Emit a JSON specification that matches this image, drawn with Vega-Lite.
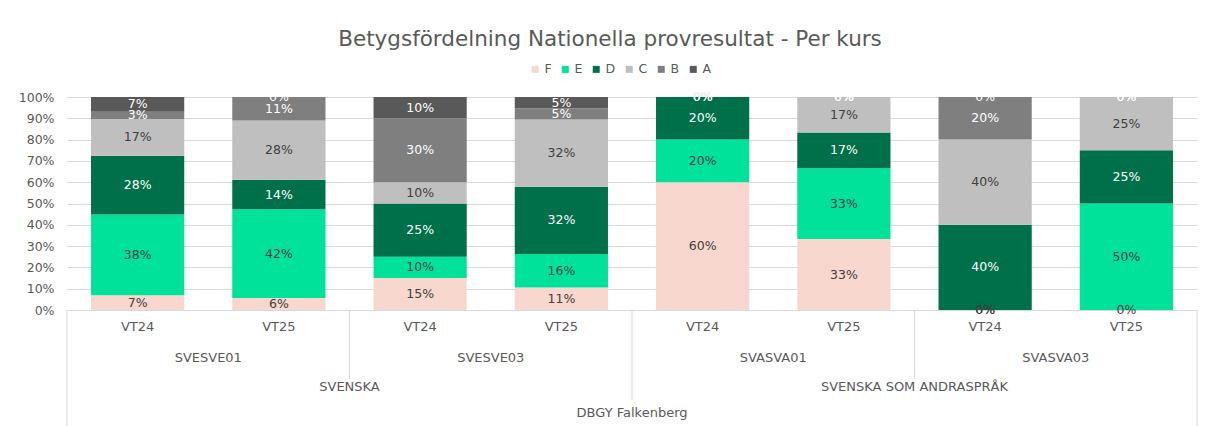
{
  "$schema": "https://vega.github.io/schema/vega-lite/v6.json",
  "width": 1130,
  "height": 213,
  "autosize": {"type": "none"},
  "padding": {"left": 67, "top": 97, "right": 8, "bottom": 116},
  "background": "white",
  "config": {
    "font": "DejaVu Sans",
    "view": {"stroke": null},
    "axis": {"labelColor": "#595959", "labelFont": "DejaVu Sans"},
    "axisY": {
      "labelOverlap": false, "domain": false, "ticks": false,
      "labelPadding": 13, "labelFontSize": 12.5, "labelColor": "#595959",
      "grid": true, "gridColor": "#D9D9D9", "gridWidth": 1, "title": null
    },
    "legend": {"labelFont": "DejaVu Sans"}
  },
  "title": {
    "text": "Betygsfördelning Nationella provresultat - Per kurs",
    "font": "DejaVu Sans",
    "fontSize": 21.5,
    "fontWeight": "normal",
    "color": "#595959",
    "anchor": "middle",
    "frame": "group",
    "dx": -22,
    "offset": 13
  },
  "data": {
    "values": [
      {"course": "SVESVE01", "term": "VT24", "key": "SVESVE01 VT24", "grade": "F", "pct": 0.069},
      {"course": "SVESVE01", "term": "VT24", "key": "SVESVE01 VT24", "grade": "E", "pct": 0.379},
      {"course": "SVESVE01", "term": "VT24", "key": "SVESVE01 VT24", "grade": "D", "pct": 0.276},
      {"course": "SVESVE01", "term": "VT24", "key": "SVESVE01 VT24", "grade": "C", "pct": 0.172},
      {"course": "SVESVE01", "term": "VT24", "key": "SVESVE01 VT24", "grade": "B", "pct": 0.034},
      {"course": "SVESVE01", "term": "VT24", "key": "SVESVE01 VT24", "grade": "A", "pct": 0.069},
      {"course": "SVESVE01", "term": "VT25", "key": "SVESVE01 VT25", "grade": "F", "pct": 0.056},
      {"course": "SVESVE01", "term": "VT25", "key": "SVESVE01 VT25", "grade": "E", "pct": 0.417},
      {"course": "SVESVE01", "term": "VT25", "key": "SVESVE01 VT25", "grade": "D", "pct": 0.139},
      {"course": "SVESVE01", "term": "VT25", "key": "SVESVE01 VT25", "grade": "C", "pct": 0.278},
      {"course": "SVESVE01", "term": "VT25", "key": "SVESVE01 VT25", "grade": "B", "pct": 0.111},
      {"course": "SVESVE01", "term": "VT25", "key": "SVESVE01 VT25", "grade": "A", "pct": 0},
      {"course": "SVESVE03", "term": "VT24", "key": "SVESVE03 VT24", "grade": "F", "pct": 0.15},
      {"course": "SVESVE03", "term": "VT24", "key": "SVESVE03 VT24", "grade": "E", "pct": 0.10},
      {"course": "SVESVE03", "term": "VT24", "key": "SVESVE03 VT24", "grade": "D", "pct": 0.25},
      {"course": "SVESVE03", "term": "VT24", "key": "SVESVE03 VT24", "grade": "C", "pct": 0.10},
      {"course": "SVESVE03", "term": "VT24", "key": "SVESVE03 VT24", "grade": "B", "pct": 0.30},
      {"course": "SVESVE03", "term": "VT24", "key": "SVESVE03 VT24", "grade": "A", "pct": 0.10},
      {"course": "SVESVE03", "term": "VT25", "key": "SVESVE03 VT25", "grade": "F", "pct": 0.1053},
      {"course": "SVESVE03", "term": "VT25", "key": "SVESVE03 VT25", "grade": "E", "pct": 0.158},
      {"course": "SVESVE03", "term": "VT25", "key": "SVESVE03 VT25", "grade": "D", "pct": 0.316},
      {"course": "SVESVE03", "term": "VT25", "key": "SVESVE03 VT25", "grade": "C", "pct": 0.316},
      {"course": "SVESVE03", "term": "VT25", "key": "SVESVE03 VT25", "grade": "B", "pct": 0.053},
      {"course": "SVESVE03", "term": "VT25", "key": "SVESVE03 VT25", "grade": "A", "pct": 0.053},
      {"course": "SVASVA01", "term": "VT24", "key": "SVASVA01 VT24", "grade": "F", "pct": 0.60},
      {"course": "SVASVA01", "term": "VT24", "key": "SVASVA01 VT24", "grade": "E", "pct": 0.20},
      {"course": "SVASVA01", "term": "VT24", "key": "SVASVA01 VT24", "grade": "D", "pct": 0.20},
      {"course": "SVASVA01", "term": "VT24", "key": "SVASVA01 VT24", "grade": "C", "pct": 0},
      {"course": "SVASVA01", "term": "VT24", "key": "SVASVA01 VT24", "grade": "B", "pct": 0},
      {"course": "SVASVA01", "term": "VT24", "key": "SVASVA01 VT24", "grade": "A", "pct": 0},
      {"course": "SVASVA01", "term": "VT25", "key": "SVASVA01 VT25", "grade": "F", "pct": 0.333},
      {"course": "SVASVA01", "term": "VT25", "key": "SVASVA01 VT25", "grade": "E", "pct": 0.333},
      {"course": "SVASVA01", "term": "VT25", "key": "SVASVA01 VT25", "grade": "D", "pct": 0.167},
      {"course": "SVASVA01", "term": "VT25", "key": "SVASVA01 VT25", "grade": "C", "pct": 0.167},
      {"course": "SVASVA01", "term": "VT25", "key": "SVASVA01 VT25", "grade": "B", "pct": 0},
      {"course": "SVASVA01", "term": "VT25", "key": "SVASVA01 VT25", "grade": "A", "pct": 0},
      {"course": "SVASVA03", "term": "VT24", "key": "SVASVA03 VT24", "grade": "F", "pct": 0},
      {"course": "SVASVA03", "term": "VT24", "key": "SVASVA03 VT24", "grade": "E", "pct": 0},
      {"course": "SVASVA03", "term": "VT24", "key": "SVASVA03 VT24", "grade": "D", "pct": 0.40},
      {"course": "SVASVA03", "term": "VT24", "key": "SVASVA03 VT24", "grade": "C", "pct": 0.40},
      {"course": "SVASVA03", "term": "VT24", "key": "SVASVA03 VT24", "grade": "B", "pct": 0.20},
      {"course": "SVASVA03", "term": "VT24", "key": "SVASVA03 VT24", "grade": "A", "pct": 0},
      {"course": "SVASVA03", "term": "VT25", "key": "SVASVA03 VT25", "grade": "F", "pct": 0},
      {"course": "SVASVA03", "term": "VT25", "key": "SVASVA03 VT25", "grade": "E", "pct": 0.50},
      {"course": "SVASVA03", "term": "VT25", "key": "SVASVA03 VT25", "grade": "D", "pct": 0.25},
      {"course": "SVASVA03", "term": "VT25", "key": "SVASVA03 VT25", "grade": "C", "pct": 0.25},
      {"course": "SVASVA03", "term": "VT25", "key": "SVASVA03 VT25", "grade": "B", "pct": 0},
      {"course": "SVASVA03", "term": "VT25", "key": "SVASVA03 VT25", "grade": "A", "pct": 0}
    ]
  },
  "layer": [
    {
      "mark": {"type": "bar", "width": {"band": 0.66}},
      "encoding": {
        "x": {
          "field": "key", "type": "nominal",
          "scale": {
            "domain": ["SVESVE01 VT24", "SVESVE01 VT25", "SVESVE03 VT24", "SVESVE03 VT25", "SVASVA01 VT24", "SVASVA01 VT25", "SVASVA03 VT24", "SVASVA03 VT25"],
            "paddingInner": 0, "paddingOuter": 0
          },
          "axis": null
        },
        "y": {
          "field": "pct", "type": "quantitative", "stack": "normalize",
          "scale": {"domain": [0, 1], "nice": false},
          "title": null,
          "axis": {"values": [0, 0.1, 0.2, 0.3, 0.4, 0.5, 0.6, 0.7, 0.8, 0.9, 1], "format": ".0%", "title": null}
        },
        "color": {
          "field": "grade", "type": "nominal",
          "scale": {
            "domain": ["F", "E", "D", "C", "B", "A"],
            "range": ["#F8D7CE", "#00E29A", "#00704A", "#BFBFBF", "#7F7F7F", "#595959"]
          },
          "legend": {
            "orient": "none", "legendX": 462, "legendY": -34,
            "direction": "horizontal", "title": null,
            "symbolType": "square", "symbolSize": 49, "symbolStrokeWidth": 0,
            "labelFontSize": 12.5, "labelColor": "#595959",
            "labelOffset": 3, "columnPadding": 7
          }
        },
        "order": {"field": "grade", "sort": "descending"}
      }
    },
    {
      "mark": {"type": "text", "fontSize": 12.5, "baseline": "middle"},
      "encoding": {
        "x": {"field": "key", "type": "nominal"},
        "y": {"field": "pct", "type": "quantitative", "stack": "normalize", "bandPosition": 0.5, "title": null,
              "axis": {"values": [0, 0.1, 0.2, 0.3, 0.4, 0.5, 0.6, 0.7, 0.8, 0.9, 1], "format": ".0%", "title": null}},
        "detail": {"field": "grade"},
        "order": {"field": "grade", "sort": "descending"},
        "text": {"field": "pct", "format": ".0%"},
        "color": {
          "condition": {"test": "datum.grade === 'D' || datum.grade === 'B' || datum.grade === 'A'", "value": "#FFFFFF"},
          "value": "#404040"
        }
      }
    },
    {
      "transform": [{"filter": "datum.grade === 'F'"}],
      "mark": {"type": "text", "fontSize": 13, "color": "#595959", "baseline": "middle"},
      "encoding": {
        "x": {"field": "key", "type": "nominal"},
        "y": {"datum": -0.08, "title": null, "axis": {"values": [0, 0.1, 0.2, 0.3, 0.4, 0.5, 0.6, 0.7, 0.8, 0.9, 1], "format": ".0%", "title": null}},
        "text": {"field": "term"}
      }
    },
    {
      "data": {"values": [
        {"label": "SVESVE01", "at": "SVESVE01 VT24"},
        {"label": "SVESVE03", "at": "SVESVE03 VT24"},
        {"label": "SVASVA01", "at": "SVASVA01 VT24"},
        {"label": "SVASVA03", "at": "SVASVA03 VT24"}
      ]},
      "mark": {"type": "text", "fontSize": 13, "color": "#595959", "baseline": "middle"},
      "encoding": {
        "x": {"field": "at", "type": "nominal", "bandPosition": 1},
        "y": {"datum": -0.225, "title": null, "axis": {"values": [0, 0.1, 0.2, 0.3, 0.4, 0.5, 0.6, 0.7, 0.8, 0.9, 1], "format": ".0%", "title": null}},
        "text": {"field": "label"}
      }
    },
    {
      "data": {"values": [
        {"label": "SVENSKA", "at": "SVESVE01 VT25"},
        {"label": "SVENSKA SOM ANDRASPRÅK", "at": "SVASVA01 VT25"}
      ]},
      "mark": {"type": "text", "fontSize": 13, "color": "#595959", "baseline": "middle"},
      "encoding": {
        "x": {"field": "at", "type": "nominal", "bandPosition": 1},
        "y": {"datum": -0.362, "title": null, "axis": {"values": [0, 0.1, 0.2, 0.3, 0.4, 0.5, 0.6, 0.7, 0.8, 0.9, 1], "format": ".0%", "title": null}},
        "text": {"field": "label"}
      }
    },
    {
      "data": {"values": [
        {"label": "DBGY Falkenberg", "at": "SVESVE03 VT25"}
      ]},
      "mark": {"type": "text", "fontSize": 13, "color": "#595959", "baseline": "middle"},
      "encoding": {
        "x": {"field": "at", "type": "nominal", "bandPosition": 1},
        "y": {"datum": -0.484, "title": null, "axis": {"values": [0, 0.1, 0.2, 0.3, 0.4, 0.5, 0.6, 0.7, 0.8, 0.9, 1], "format": ".0%", "title": null}},
        "text": {"field": "label"}
      }
    },
    {
      "data": {"values": [
        {"at": "SVESVE01 VT25"},
        {"at": "SVASVA01 VT25"}
      ]},
      "mark": {"type": "rule", "color": "#D9D9D9", "strokeWidth": 1},
      "encoding": {
        "x": {"field": "at", "type": "nominal", "bandPosition": 1},
        "y": {"datum": 0, "title": null, "axis": {"values": [0, 0.1, 0.2, 0.3, 0.4, 0.5, 0.6, 0.7, 0.8, 0.9, 1], "format": ".0%", "title": null}},
        "y2": {"datum": -0.324}
      }
    },
    {
      "data": {"values": [
        {"at": "SVESVE03 VT25"}
      ]},
      "mark": {"type": "rule", "color": "#D9D9D9", "strokeWidth": 1},
      "encoding": {
        "x": {"field": "at", "type": "nominal", "bandPosition": 1},
        "y": {"datum": 0, "title": null, "axis": {"values": [0, 0.1, 0.2, 0.3, 0.4, 0.5, 0.6, 0.7, 0.8, 0.9, 1], "format": ".0%", "title": null}},
        "y2": {"datum": -0.423}
      }
    },
    {
      "data": {"values": [
        {"at": "SVASVA03 VT25"}
      ]},
      "mark": {"type": "rule", "color": "#D9D9D9", "strokeWidth": 1},
      "encoding": {
        "x": {"field": "at", "type": "nominal", "bandPosition": 1},
        "y": {"datum": 0, "title": null, "axis": {"values": [0, 0.1, 0.2, 0.3, 0.4, 0.5, 0.6, 0.7, 0.8, 0.9, 1], "format": ".0%", "title": null}},
        "y2": {"datum": -0.56}
      }
    },
    {
      "data": {"values": [
        {"at": "SVESVE01 VT24"}
      ]},
      "mark": {"type": "rule", "color": "#D9D9D9", "strokeWidth": 1},
      "encoding": {
        "x": {"field": "at", "type": "nominal", "bandPosition": 0},
        "y": {"datum": 0, "title": null, "axis": {"values": [0, 0.1, 0.2, 0.3, 0.4, 0.5, 0.6, 0.7, 0.8, 0.9, 1], "format": ".0%", "title": null}},
        "y2": {"datum": -0.56}
      }
    }
  ]
}
